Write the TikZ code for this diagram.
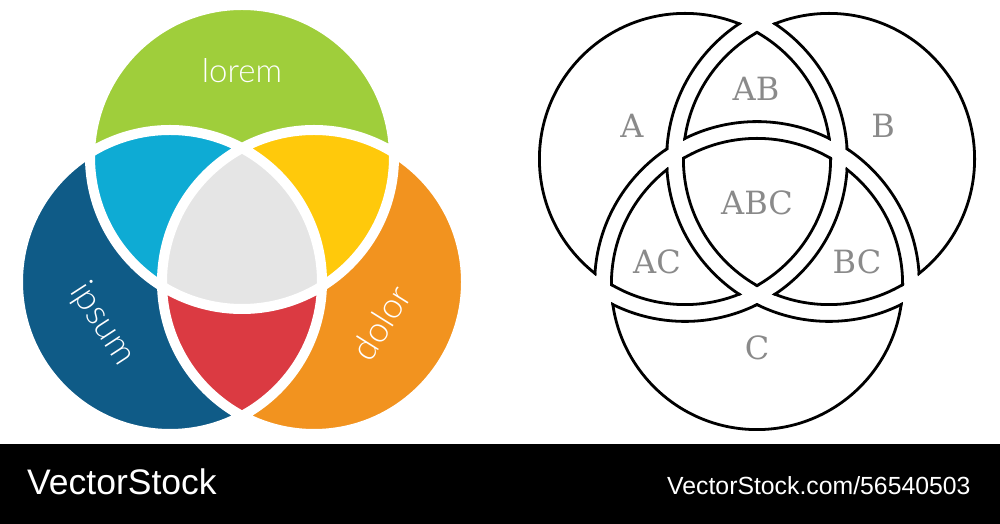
\documentclass[tikz,border=0pt]{standalone}
\usepackage{fontspec}
\newfontfamily\lightfont{Lato Light}
\newfontfamily\slabfont{DejaVu Serif}
\newfontfamily\wmfont{Liberation Sans}
\definecolor{vgreen}{RGB}{159,206,59}
\definecolor{vcyan}{RGB}{14,171,212}
\definecolor{vyellow}{RGB}{255,201,11}
\definecolor{vgray}{RGB}{229,229,229}
\definecolor{vred}{RGB}{219,58,66}
\definecolor{vblue}{RGB}{15,91,135}
\definecolor{vorange}{RGB}{242,147,31}
\definecolor{vtext}{RGB}{138,138,138}
\newcommand\inclip[1]{\clip (#1) circle (147pt);}
\newcommand\outclip[1]{\clip (0,0) rectangle (1000,524) (#1) circle (161pt);}
\newcommand\inring[1]{\draw[outl] (#1) circle (147pt);}
\newcommand\outring[1]{\draw[outl] (#1) circle (161pt);}
\begin{document}
\begin{tikzpicture}[x=1pt,y=1pt,
  outl/.style={draw=black,line width=5.6pt},
  clab/.style={text=white,inner sep=0pt,font=\lightfont\fontsize{33}{38}\selectfont},
  clabbig/.style={text=white,inner sep=0pt,font=\lightfont\fontsize{35.5}{40}\selectfont},
  vlab/.style={text=vtext,inner sep=0pt,font=\slabfont\fontsize{32}{32}\selectfont},
  wm/.style={text=white,inner sep=0pt}]
\useasboundingbox (0,0) rectangle (1000,524);
\fill[white] (0,0) rectangle (1000,524);
\fill[black] (0,0) rectangle (1000,80);
% left coloured diagram
\coordinate (G) at (242,367);
\coordinate (L) at (170,242);
\coordinate (O) at (314,242);
\fill[vgreen] (G) circle (152pt);
\fill[vblue] (L) circle (152pt);
\fill[vorange] (O) circle (152pt);
\begin{scope}
  \clip (L) circle (152pt);
  \fill[vred] (O) circle (152pt);
\end{scope}
\begin{scope}
  \clip (G) circle (152pt);
  \fill[vcyan] (L) circle (152pt);
  \fill[vyellow] (O) circle (152pt);
  \clip (L) circle (152pt);
  \fill[vgray] (O) circle (152pt);
\end{scope}
\draw[white,line width=10pt] (G) circle (152pt) (L) circle (152pt) (O) circle (152pt);
\node[clab,anchor=base] (lorem) at (242,441) {lorem};
\node[clabbig,rotate=-57] (ipsum) at (102,200) {ipsum};
\node[clabbig,rotate=58] (dolor) at (381,201.5) {dolor};
% right outlined diagram
\coordinate (A) at (685,365);
\coordinate (B) at (829,365);
\coordinate (C) at (757,240);
\begin{scope}\inclip{A}\outclip{B}\outclip{C}\inring{A}\outring{B}\outring{C}\end{scope}
\begin{scope}\inclip{B}\outclip{A}\outclip{C}\inring{B}\outring{A}\outring{C}\end{scope}
\begin{scope}\inclip{C}\outclip{A}\outclip{B}\inring{C}\outring{A}\outring{B}\end{scope}
\begin{scope}\inclip{A}\inclip{B}\outclip{C}\inring{A}\inring{B}\outring{C}\end{scope}
\begin{scope}\inclip{A}\inclip{C}\outclip{B}\inring{A}\inring{C}\outring{B}\end{scope}
\begin{scope}\inclip{B}\inclip{C}\outclip{A}\inring{B}\inring{C}\outring{A}\end{scope}
\begin{scope}\inclip{A}\inclip{B}\inclip{C}\inring{A}\inring{B}\inring{C}\end{scope}
\node[vlab] (lA) at (632,398) {A};
\node[vlab] (lB) at (883,398) {B};
\node[vlab] (lAB) at (756,435) {AB};
\node[vlab] (lABC) at (757,321) {ABC};
\node[vlab] (lAC) at (657,262) {AC};
\node[vlab] (lBC) at (857,262) {BC};
\node[vlab] (lC) at (757,176) {C};
% watermark band
\node[wm,anchor=base west,font=\wmfont\fontsize{35.5}{40}\selectfont] (brand) at (27,29) {VectorStock};
\node[wm,anchor=base west,font=\wmfont\fontsize{24.8}{30}\selectfont] (url) at (667,29) {VectorStock.com/56540503};
\end{tikzpicture}
\end{document}
